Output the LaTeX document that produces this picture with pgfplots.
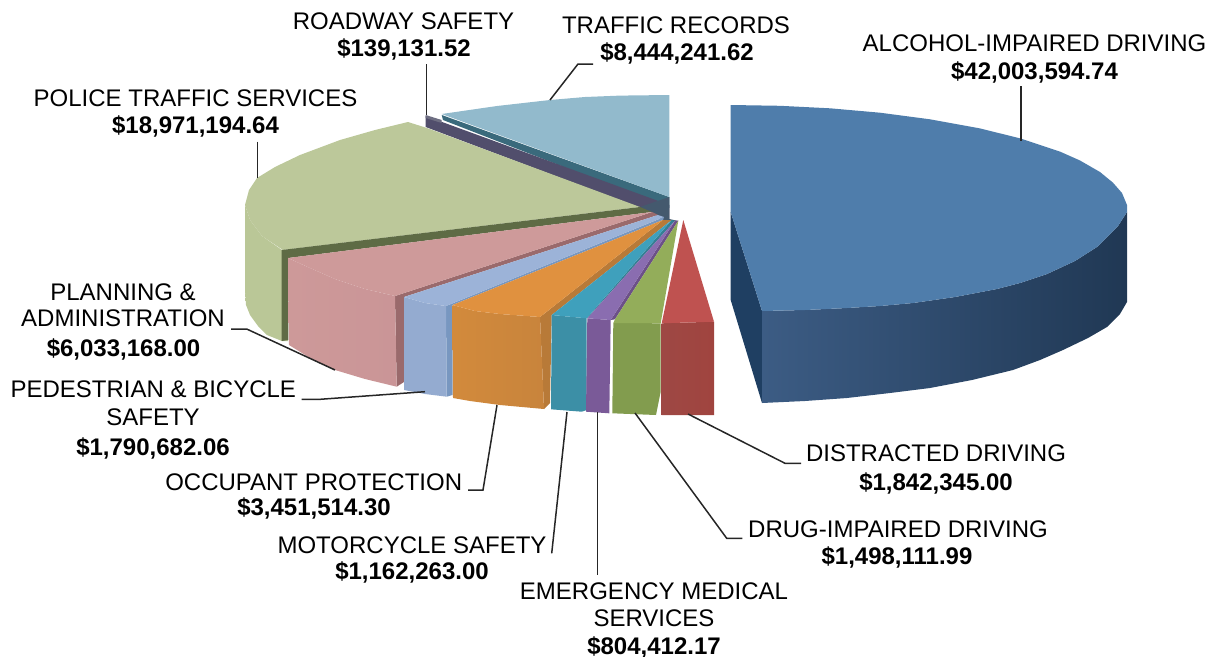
\documentclass[border=0pt]{standalone}
\usepackage{pgfplots}
\pgfplotsset{compat=1.18}
\usepackage{fontspec}
\setmainfont{Liberation Sans}

\definecolor{recTop}{HTML}{92BACC}
\definecolor{recCut}{HTML}{3A6A7C}
\definecolor{roadCut}{HTML}{514E6C}
\definecolor{roadTop}{HTML}{6E6E82}
\definecolor{hub}{HTML}{44596E}
\definecolor{polTop}{HTML}{BCC89A}
\definecolor{polWallA}{HTML}{BAC797}
\definecolor{polWallB}{HTML}{BAC797}
\definecolor{polCut}{HTML}{5E6B45}
\definecolor{planTop}{HTML}{CE9A9A}
\definecolor{planWallA}{HTML}{CD9999}
\definecolor{planWallB}{HTML}{CA9597}
\definecolor{planCut}{HTML}{9A6A6C}
\definecolor{pedTop}{HTML}{9CB3D8}
\definecolor{pedWall}{HTML}{94ABD0}
\definecolor{pedCut}{HTML}{7897C0}
\definecolor{occTop}{HTML}{E0913F}
\definecolor{occWallA}{HTML}{D28A3C}
\definecolor{occWallB}{HTML}{C8843C}
\definecolor{occCut}{HTML}{B87A38}
\definecolor{motTop}{HTML}{3FA0BC}
\definecolor{motWall}{HTML}{3C8FA6}
\definecolor{motCut}{HTML}{357F94}
\definecolor{emsTop}{HTML}{8A6DB0}
\definecolor{emsWall}{HTML}{7A5A98}
\definecolor{emsCut}{HTML}{6C5088}
\definecolor{drugTop}{HTML}{93AD5A}
\definecolor{drugWall}{HTML}{829C4E}
\definecolor{disTop}{HTML}{BF5250}
\definecolor{disWallA}{HTML}{9E4844}
\definecolor{disWallB}{HTML}{A0443F}
\definecolor{alcTop}{HTML}{4F7DAB}
\definecolor{alcCut}{HTML}{1F3F62}
\definecolor{alcWallA}{HTML}{3C5C84}
\definecolor{alcWallM}{HTML}{25405F}
\definecolor{alcWallB}{HTML}{203854}

% filled polygon in pixel-like axis units
\newcommand{\Face}[2]{\addplot[fill=#1,draw=none,forget plot] coordinates {#2} -- cycle;}
\newcommand{\Wall}[3]{\addplot[left color=#1,right color=#2,draw=none,forget plot] coordinates {#3} -- cycle;}
\newcommand{\Leader}[1]{\addplot[color=black!85,line width=1.5pt,forget plot] coordinates {#1};}
\newcommand{\Lab}[3]{\node[anchor=base,inner sep=0pt] at (axis cs:#1,#2) {#3};}

\begin{document}
\begin{tikzpicture}
\begin{axis}[
  scale only axis, width=1212pt, height=656pt,
  xmin=0, xmax=1212, ymin=0, ymax=656,
  y dir=reverse, axis lines=none, clip=false,
  nodes={font=\fontsize{24}{28}\selectfont},
]
% traffic records
\Face{recCut}{(441.7,115)(443,120)(669.3,208)(669.3,197)}
\Face{recTop}{(669.3,95)(620,95.6)(585,97)(550,100)(497,106)(441.7,114)(669.3,197)}
% roadway safety
\Face{roadCut}{(425.7,116)(669.3,205)(669.3,219)(425.7,127)}
\Face{roadTop}{(425.7,115)(441.7,120)(441.7,123)(425.7,118)}
% centre of the pie, where the cut sides meet
\Face{hub}{(640,207)(669.3,197)(669.3,219)(678,221)(663,221)(652,212)}
% police traffic services
\Wall{polWallA}{polWallB}{(245,205)(250,220)(262,236)(282,250)(288,341)(282,341)(267,335)(258,326)(250,315)(246,305)(245,290)}
\Face{polTop}{(408,122)(427,128)(640,207)(283,250)(262,236)(250,220)(245,205)(249,190)(257,178)(275,167)(300,155)(340,140)(375,130)}
\Face{polCut}{(281.7,250)(640,207)(652,212)(288.3,258)(288.3,340)(281.7,341)}
% planning and administration
\Face{planCut}{(395,296)(652,212)(658,215)(404,297)(404,382)(396.7,386.7)}
\Wall{planWallA}{planWallB}{(288,258)(310,268)(335,279)(365,289)(395,296)(396.7,386.7)(365,379)(335,370)(310,358)(289,345)}
\Face{planTop}{(288,258)(652,212)(395,296)(365,289)(335,279)(310,268)}
% pedestrian and bicycle safety
\Face{pedCut}{(446,306)(664,217)(663,220)(452.5,305)(452.5,395)(446.7,396.7)}
\Face{pedWall}{(404,297)(425,303)(446,306)(446.7,396.7)(425,394)(404,390)}
\Face{pedTop}{(404,297)(658,215)(664,217)(446,306)(425,303)}
% occupant protection
\Face{occCut}{(540,317)(663,220)(671.7,220)(551.7,315)(550,403)(544,409)}
\Wall{occWallA}{occWallB}{(452.5,305)(475,311)(500,314)(540,317)(544,409)(500,405)(470,401)(453,398)}
\Face{occTop}{(452.5,305)(663,220)(540,317)(500,314)(475,311)}
% motorcycle safety
\Face{motCut}{(586.7,318.3)(671.7,220)(675,220.7)(587.3,318.3)}
\Face{motWall}{(551.7,315)(586.7,318.3)(586.7,410)(581.7,411.7)(551,409.3)}
\Face{motTop}{(551.7,315)(671.7,220)(586.7,318.3)}
% emergency medical services
\Face{emsCut}{(610.7,320)(675,220.7)(678.3,220.7)(615,319.3)}
\Face{emsWall}{(587.3,318.3)(610.7,320)(609.3,413.3)(586,411.7)}
\Face{emsTop}{(587.3,318.3)(675,220.7)(610.7,320)}
% drug-impaired driving
\Face{drugWall}{(613.3,323)(660.7,323.3)(660.7,391.7)(656,415)(612.3,413.3)}
\Face{drugTop}{(613.3,323)(615,319.3)(678.3,220.7)(660.7,323.3)}
% distracted driving
\Wall{disWallA}{disWallB}{(661.7,323.3)(714,321.7)(714,415)(661.7,415)}
\Face{disTop}{(683.3,220)(714,321.7)(661.7,323.3)}
% alcohol-impaired driving
\Face{alcCut}{(730.7,212)(730.7,300)(762,403)(762,311)}
\addplot[left color=alcWallA,middle color=alcWallM,right color=alcWallB,draw=none,forget plot] coordinates {(1127,212)(1118,226)(1097,247)(1075,261)(1047,274)(1020,283)(997,289)(955,297)(913,303)(880,306)(847,308)(805,310)(762,311)(762,403)(805,401)(847,398)(890,393)(930,388)(972,380)(1013,370)(1040,360)(1063,350)(1088,338)(1107,327)(1120,314)(1127,302)} -- cycle;
\Face{alcTop}{(730.7,105)(780,105.8)(830,108.3)(880,112.7)(930,119.3)(980,128.4)(1021,138.6)(1060,151.6)(1080,160.5)(1100,172)(1113,182.7)(1122,193)(1127,205)(1127,212)(1118,226)(1097,247)(1075,261)(1047,274)(1020,283)(997,289)(955,297)(913,303)(880,306)(847,308)(805,310)(762,311)(730.7,212)}
% leader lines
\Leader{(1021,86)(1021,141)}
\Leader{(550,100)(578,64)(593,64)}
\Leader{(426.7,64)(426.7,115)}
\Leader{(257.3,141.7)(257.3,178)}
\Leader{(231,329)(246.7,329)(335,370)}
\Leader{(301.7,399.3)(320,399.3)(425,391.7)}
\Leader{(468,490)(483,490)(497,405)}
\Leader{(551.7,553.3)(567,412)}
\Leader{(597.3,412)(597.3,575)}
\Leader{(635,413)(726.7,538.3)(742.3,538.3)}
\Leader{(688,414)(785,463.3)(801,463.3)}
% labels
\Lab{676}{33}{TRAFFIC RECORDS}
\Lab{677}{60.7}{\textbf{\$8,444,241.62}}
\Lab{403.5}{29.3}{ROADWAY SAFETY}
\Lab{404}{56}{\textbf{\$139,131.52}}
\Lab{1034.5}{51.7}{ALCOHOL-IMPAIRED DRIVING}
\Lab{1034.5}{79}{\textbf{\$42,003,594.74}}
\Lab{195.5}{106}{POLICE TRAFFIC SERVICES}
\Lab{195.5}{133}{\textbf{\$18,971,194.64}}
\Lab{123}{300}{PLANNING \&}
\Lab{123}{326.7}{ADMINISTRATION}
\Lab{123.5}{356.7}{\textbf{\$6,033,168.00}}
\Lab{153.3}{397.7}{PEDESTRIAN \& BICYCLE}
\Lab{153}{425}{SAFETY}
\Lab{153}{455}{\textbf{\$1,790,682.06}}
\Lab{313.7}{490}{OCCUPANT PROTECTION}
\Lab{314}{515.7}{\textbf{\$3,451,514.30}}
\Lab{412}{553.3}{MOTORCYCLE SAFETY}
\Lab{412}{579}{\textbf{\$1,162,263.00}}
\Lab{654}{599.3}{EMERGENCY MEDICAL}
\Lab{654}{626}{SERVICES}
\Lab{654}{654.5}{\textbf{\$804,412.17}}
\Lab{936}{461.7}{DISTRACTED DRIVING}
\Lab{936}{490}{\textbf{\$1,842,345.00}}
\Lab{898}{537.7}{DRUG-IMPAIRED DRIVING}
\Lab{897}{564.3}{\textbf{\$1,498,111.99}}
\end{axis}
\pgfresetboundingbox
\path (0,0) rectangle (1212pt,656pt);
\end{tikzpicture}
\end{document}
